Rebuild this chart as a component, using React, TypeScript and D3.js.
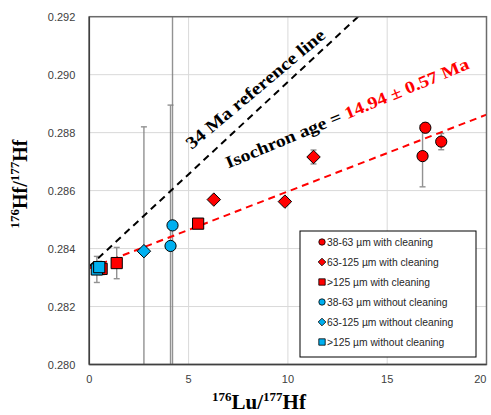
import React from "react";
import * as d3 from "d3";

// axis ticks
const xTicks = [0, 5, 10, 15, 20];
const yTicks = [0.28, 0.282, 0.284, 0.286, 0.288, 0.29, 0.292];

// series
const seriesLabels = [
  "38-63 µm with cleaning",
  "63-125 µm with cleaning",
  ">125 µm with cleaning",
  "38-63 µm without cleaning",
  "63-125 µm without cleaning",
  ">125 µm without cleaning",
];
const seriesShapes = ["circle", "diamond", "square", "circle", "diamond", "square"];

const redCircleX = [16.92, 16.78, 17.72];
const redCircleY = [0.28817, 0.28719, 0.28769];
const redCircleErr = [0.00017, 0.00106, 0.00028];

const redDiamondX = [6.27, 9.85, 11.29];
const redDiamondY = [0.28569, 0.28562, 0.28716];
const redDiamondErr = [0.00005, 0.00013, 0.00024];

const redSquareX = [0.62, 1.38, 5.48];
const redSquareY = [0.2833, 0.2835, 0.28486];
const redSquareErr = [0.0002, 0.00054, 0.00005];

const blueCircleX = [4.09, 4.19];
const blueCircleY = [0.28409, 0.2848];
const blueCircleErr = [0.00486, 0.0078];

const blueDiamondX = [2.75];
const blueDiamondY = [0.28391];
const blueDiamondErr = [0.00429];

const blueSquareX = [0.38, 0.5];
const blueSquareY = [0.28328, 0.28336];
const blueSquareErr = [0.00045, 0.0002];

// lines: intercept + slope
const refLine = { intercept: 0.28338, slope: 0.000637 };
const isoLine = { intercept: 0.28332, slope: 0.000265 };

const W = 491;
const H = 415;
const margin = { left: 89.3, right: 4.5, top: 16.7, bottom: 50.5 };

const RED = "#ff0000";
const BLUE = "#00b0f0";

function markerPath(shape: string, s: number) {
  if (shape === "diamond") return `M0,${-s * 1.2}L${s * 1.2},0L0,${s * 1.2}L${-s * 1.2},0Z`;
  if (shape === "square") return `M${-s},${-s}H${s}V${s}H${-s}Z`;
  return d3.arc()({ innerRadius: 0, outerRadius: s, startAngle: 0, endAngle: 2 * Math.PI } as any) || "";
}

export default function App() {
  const x = d3.scaleLinear().domain([0, 20]).range([margin.left, W - margin.right]);
  const y = d3.scaleLinear().domain([0.28, 0.292]).range([H - margin.bottom, margin.top]);

  const series = [
    { xs: redCircleX, ys: redCircleY, errs: redCircleErr, color: RED },
    { xs: redDiamondX, ys: redDiamondY, errs: redDiamondErr, color: RED },
    { xs: redSquareX, ys: redSquareY, errs: redSquareErr, color: RED },
    { xs: blueCircleX, ys: blueCircleY, errs: blueCircleErr, color: BLUE },
    { xs: blueDiamondX, ys: blueDiamondY, errs: blueDiamondErr, color: BLUE },
    { xs: blueSquareX, ys: blueSquareY, errs: blueSquareErr, color: BLUE },
  ].map((s, i) => ({ ...s, label: seriesLabels[i], shape: seriesShapes[i] }));

  const lineFor = (l: { intercept: number; slope: number }) =>
    d3
      .line<number>()
      .x((d) => x(d))
      .y((d) => y(l.intercept + l.slope * d))([0, 20]) || "";

  const x0 = x(0), x1 = x(20), y0 = y(0.28), y1 = y(0.292);

  const legend = { x: 300, y: 231, w: 176, h: 126, row: 20 };

  return (
    <div style={{ position: "fixed", left: 0, top: 0 }}>
      <svg width={W} height={H} style={{ display: "block", background: "#fff" }}>
        <defs>
          <clipPath id="plot">
            <rect x={x0} y={y1} width={x1 - x0} height={y0 - y1} />
          </clipPath>
        </defs>
        {/* grid */}
        {yTicks.map((t) => (
          <line key={"gy" + t} x1={x0} x2={x1} y1={y(t)} y2={y(t)} stroke="#d9d9d9" strokeWidth={1} />
        ))}
        {xTicks.map((t) => (
          <line key={"gx" + t} x1={x(t)} x2={x(t)} y1={y0} y2={y1} stroke="#d9d9d9" strokeWidth={1} />
        ))}

        {/* error bars */}
        <g clipPath="url(#plot)">
          {series.map((s, si) =>
            s.xs.map((xv, i) => {
              const cx = x(xv);
              const top = y(s.ys[i] + s.errs[i]);
              const bot = y(s.ys[i] - s.errs[i]);
              return (
                <g key={`e${si}-${i}`} stroke="#7f7f7f" strokeWidth={1.4} opacity={0.85}>
                  <line x1={cx} x2={cx} y1={top} y2={bot} />
                  <line x1={cx - 3} x2={cx + 3} y1={top} y2={top} />
                  <line x1={cx - 3} x2={cx + 3} y1={bot} y2={bot} />
                </g>
              );
            })
          )}
          {/* reference and isochron lines */}
          <path d={lineFor(refLine)} fill="none" stroke="#000" strokeWidth={2} strokeDasharray="7,5" />
          <path d={lineFor(isoLine)} fill="none" stroke={RED} strokeWidth={2} strokeDasharray="7,5" />
        </g>

        {/* markers */}
        {series.map((s, si) =>
          s.xs.map((xv, i) => (
            <path
              key={`m${si}-${i}`}
              d={markerPath(s.shape, 5.6)}
              transform={`translate(${x(xv)},${y(s.ys[i])})`}
              fill={s.color}
              stroke="#000"
              strokeWidth={1}
            />
          ))
        )}

        {/* frame */}
        <rect x={x0} y={y1} width={x1 - x0} height={y0 - y1} fill="none" stroke="#6b6b6b" strokeWidth={1.5} />
        <line x1={x0} x2={x0} y1={y1} y2={y0} stroke="#404040" strokeWidth={1.5} />
        <line x1={x0} x2={x1} y1={y0} y2={y0} stroke="#404040" strokeWidth={1.5} />

        {/* tick labels */}
        <g fontFamily="Liberation Sans, Arial, sans-serif" fontSize={11} fill="#404040">
          {yTicks.map((t) => (
            <text key={"ty" + t} x={x0 - 14} y={y(t) + 4} textAnchor="end">
              {d3.format(".3f")(t)}
            </text>
          ))}
          {xTicks.map((t) => (
            <text
              key={"tx" + t}
              x={Math.min(x(t), W - 2)}
              y={y0 + 18}
              textAnchor={x(t) + 7 > W ? "end" : "middle"}
            >
              {t}
            </text>
          ))}
        </g>

        {/* axis titles */}
        <text x={259} y={409} textAnchor="middle" fontFamily="Liberation Serif, serif" fontWeight="bold" fontSize={21}>
          <tspan fontSize={13} dy={-8}>176</tspan>
          <tspan dy={8}>Lu/</tspan>
          <tspan fontSize={13} dy={-8}>177</tspan>
          <tspan dy={8}>Hf</tspan>
        </text>
        <text
          transform="translate(27,184) rotate(-90)"
          textAnchor="middle"
          fontFamily="Liberation Serif, serif"
          fontWeight="bold"
          fontSize={20}
        >
          <tspan fontSize={13} dy={-8}>176</tspan>
          <tspan dy={8}>Hf/</tspan>
          <tspan fontSize={13} dy={-8}>177</tspan>
          <tspan dy={8}>Hf</tspan>
        </text>

        {/* annotations */}
        <text
          transform={`translate(${x(5.16)},${y(0.2874)}) rotate(-40)`}
          fontFamily="Liberation Serif, serif"
          fontWeight="bold"
          fontSize={17.5}
          textLength={176}
          lengthAdjust="spacingAndGlyphs"
        >
          34 Ma reference line
        </text>
        <text
          transform={`translate(${x(7.0)},${y(0.28676)}) rotate(-22.5)`}
          fontFamily="Liberation Serif, serif"
          fontWeight="bold"
          fontSize={17}
          textLength={262}
          lengthAdjust="spacingAndGlyphs"
        >
          Isochron age = <tspan fill={RED}>14.94 ± 0.57 Ma</tspan>
        </text>

        {/* legend */}
        <rect x={legend.x} y={legend.y} width={legend.w} height={legend.h} fill="#fff" stroke="#000" strokeWidth={1} />
        {series.map((s, i) => {
          const ly = legend.y + 11 + i * legend.row;
          return (
            <g key={"l" + i}>
              <path
                d={markerPath(s.shape, 3.2)}
                transform={`translate(${legend.x + 22},${ly})`}
                fill={s.color}
                stroke="#000"
                strokeWidth={0.8}
              />
              <text
                x={legend.x + 27}
                y={ly + 3.5}
                fontFamily="Liberation Sans, Arial, sans-serif"
                fontSize={10.3}
                fill="#262626"
              >
                {s.label}
              </text>
            </g>
          );
        })}
      </svg>
    </div>
  );
}
